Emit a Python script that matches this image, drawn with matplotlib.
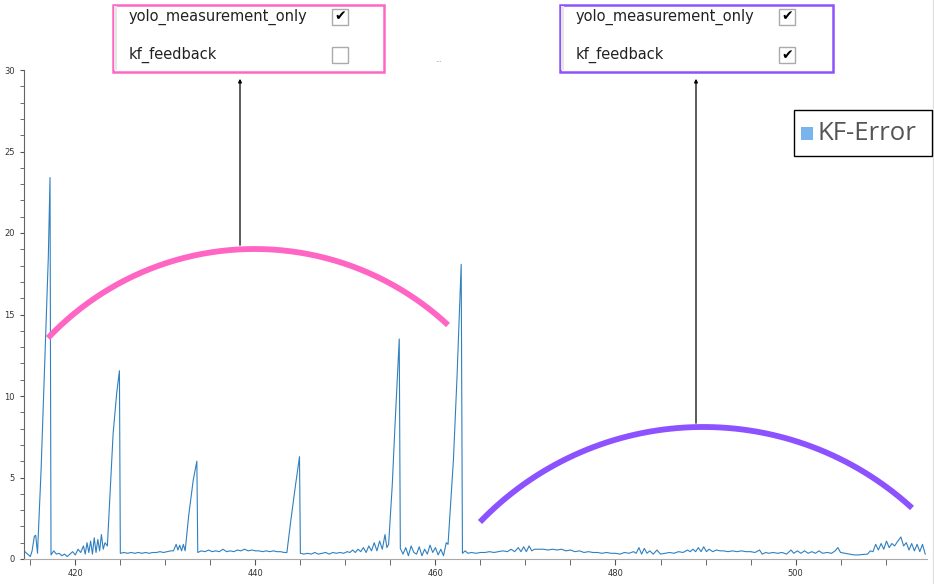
import numpy as np
import matplotlib
matplotlib.use("Agg")
import matplotlib.pyplot as plt
from matplotlib.patches import Rectangle
from matplotlib.ticker import MultipleLocator

# KF error trace (time vs error)
t = [414.4, 414.7, 415.0, 415.2, 415.45, 415.6, 415.8, 416.2, 416.6, 417.0, 417.19, 417.3,
     417.6, 417.9, 418.2, 418.5, 418.8, 419.1, 419.4, 419.7, 420.0, 420.3, 420.6, 420.9, 421.1,
     421.3, 421.5, 421.7, 421.9, 422.1, 422.3, 422.5, 422.7, 422.9, 423.1, 423.3, 423.56,
     423.86, 424.2, 424.6, 424.9, 425.0,
     425.4, 425.8, 426.2, 426.6, 427.0, 427.4, 427.8, 428.2, 428.6, 429.0, 429.4, 429.8, 430.2,
     430.6, 430.9, 431.2, 431.4, 431.6, 431.8, 432.0, 432.2,
     432.6, 433.1, 433.5, 433.6,
     434.0, 434.4, 434.8, 435.2, 435.6, 436.0, 436.4, 436.8, 437.2, 437.6, 438.0, 438.4, 438.8,
     439.2, 439.6, 440.0, 440.4, 440.8, 441.2, 441.6, 442.0, 442.4, 442.8, 443.2, 443.5,
     443.9, 444.4, 444.9, 445.0,
     445.4, 445.8, 446.2, 446.6, 447.0, 447.4, 447.8, 448.2, 448.6, 449.0, 449.4, 449.8, 450.2,
     450.5, 450.8, 451.1, 451.4, 451.7, 452.0, 452.3, 452.6, 452.9, 453.2, 453.5, 453.8, 454.1,
     454.4, 454.6, 454.8,
     455.2, 455.5, 455.8, 455.98, 456.1,
     456.4, 456.7, 457.0, 457.3, 457.6, 457.9, 458.2, 458.5, 458.8, 459.1, 459.4, 459.7, 460.0,
     460.3, 460.6, 460.9, 461.2, 461.4,
     461.7, 462.0, 462.4, 462.86, 463.0,
     463.3, 463.6, 464.0, 464.5, 465.0, 465.5, 466.0, 466.5, 467.0, 467.5, 468.0, 468.4, 468.8,
     469.2, 469.5, 469.8, 470.1, 470.4, 470.7, 471.0, 471.5, 472.0, 472.5, 473.0, 473.5, 474.0,
     474.5, 475.0, 475.5, 476.0, 476.5, 477.0, 477.5, 478.0, 478.5, 479.0, 479.5, 480.0, 480.5,
     481.0, 481.5, 482.0, 482.3, 482.6, 482.9, 483.2, 483.5, 483.8, 484.2, 484.6, 485.0, 485.5,
     486.0, 486.5, 487.0, 487.5, 488.0, 488.3, 488.6, 488.9, 489.2, 489.5, 489.8, 490.1, 490.4,
     490.8, 491.2, 491.6, 492.0, 492.5, 493.0, 493.5, 494.0, 494.5, 495.0, 495.5, 496.0, 496.3,
     496.7, 497.0, 497.5, 498.0, 498.5, 499.0, 499.5, 499.8, 500.2, 500.6, 501.0, 501.4, 501.8,
     502.2, 502.6, 503.0, 503.5, 504.0, 504.4, 504.7, 505.0, 505.5, 506.0, 506.5, 507.0, 507.5,
     508.0, 508.3, 508.6, 508.9, 509.2, 509.5, 509.8, 510.1, 510.4, 510.7, 511.0, 511.3, 511.7,
     512.0, 512.3, 512.6, 512.9, 513.2, 513.5, 513.8, 514.1, 514.4]
err = [0.45, 0.3, 0.15, 0.5, 1.4, 1.45, 0.35, 5.5, 12.0, 18.5, 23.4, 0.25,
       0.5, 0.3, 0.35, 0.2, 0.3, 0.15, 0.3, 0.45, 0.25, 0.6, 0.4, 0.8, 0.3,
       1.0, 0.4, 1.1, 0.3, 1.3, 0.4, 1.2, 0.5, 1.5, 0.6, 1.0, 0.8,
       4.0, 7.7, 10.2, 11.55, 0.35,
       0.4, 0.35, 0.4, 0.35, 0.4, 0.35, 0.4, 0.35, 0.4, 0.4, 0.45, 0.4, 0.45,
       0.5, 0.5, 0.9, 0.55, 0.85, 0.5, 0.9, 0.5,
       2.7, 4.85, 6.0, 0.4,
       0.5, 0.45, 0.55, 0.45, 0.5, 0.45, 0.6, 0.45, 0.5, 0.45, 0.55, 0.5, 0.6,
       0.5, 0.55, 0.5, 0.5, 0.45, 0.5, 0.45, 0.5, 0.45, 0.45, 0.4, 0.4,
       2.2, 4.3, 6.28, 0.35,
       0.3, 0.35, 0.3, 0.4, 0.3, 0.35, 0.4, 0.3, 0.4, 0.35, 0.4, 0.35, 0.45,
       0.4, 0.55, 0.4, 0.6, 0.45, 0.7, 0.4, 0.8, 0.5, 1.0, 0.5, 1.1, 0.6,
       1.5, 0.7, 0.9,
       4.5, 8.1, 11.5, 13.5, 0.65,
       0.3, 0.7, 0.2, 0.8, 0.4, 0.3, 0.75, 0.2, 0.6, 0.3, 0.85, 0.4, 0.7,
       0.25, 0.6, 0.2, 1.0, 0.9,
       3.5, 6.1, 11.2, 18.08, 0.35,
       0.5, 0.35, 0.4, 0.35, 0.4, 0.4, 0.45, 0.4, 0.45, 0.5, 0.45, 0.6, 0.45,
       0.7, 0.45, 0.75, 0.45, 0.8, 0.5, 0.6, 0.6, 0.6, 0.55, 0.6, 0.55, 0.6,
       0.5, 0.55, 0.45, 0.5, 0.4, 0.45, 0.4, 0.4, 0.35, 0.4, 0.35, 0.35, 0.3,
       0.4, 0.35, 0.45, 0.35, 0.7, 0.3, 0.65, 0.35, 0.5, 0.3, 0.55, 0.3, 0.35,
       0.4, 0.35, 0.45, 0.4, 0.55, 0.45, 0.6, 0.45, 0.7, 0.45, 0.75, 0.45, 0.6,
       0.45, 0.55, 0.5, 0.5, 0.45, 0.5, 0.45, 0.5, 0.45, 0.45, 0.4, 0.55, 0.3,
       0.4, 0.35, 0.4, 0.35, 0.4, 0.3, 0.55, 0.35, 0.5, 0.35, 0.5, 0.35, 0.45,
       0.35, 0.5, 0.35, 0.4, 0.35, 0.5, 0.7, 0.4, 0.35, 0.3, 0.25, 0.25, 0.28,
       0.3, 0.5, 0.45, 0.9, 0.55, 0.95, 0.6, 1.1, 0.7, 0.95, 0.8, 1.05, 1.35,
       0.8, 1.0, 0.55, 0.95, 0.5, 0.9, 0.45, 0.9, 0.3]

W, H = 934, 584
fig = plt.figure(figsize=(W / 100, H / 100), dpi=100)

ax = fig.add_axes([24 / W, (H - 559) / H, (927 - 24) / W, (559 - 70) / H])
ax.plot(t, err, color='#2f80c0', lw=0.8)
ax.set_xlim(414.3, 514.6)
ax.set_ylim(0, 30)
ax.xaxis.set_major_locator(MultipleLocator(20))
ax.xaxis.set_minor_locator(MultipleLocator(5))
ax.yaxis.set_major_locator(MultipleLocator(5))
ax.yaxis.set_minor_locator(MultipleLocator(1))
ax.tick_params(which='both', labelsize=6, colors='#555555', labelcolor='#333333')
ax.tick_params(axis='x', which='both', length=4)
ax.tick_params(axis='y', which='both', length=3)
for s in ['top', 'right']:
    ax.spines[s].set_visible(False)
ax.spines['left'].set_color('#666666')
ax.spines['bottom'].set_color('#aaaaaa')

# overlay in pixel coordinates (y measured from top)
ov = fig.add_axes([0, 0, 1, 1])
ov.set_xlim(0, W)
ov.set_ylim(H, 0)
ov.axis('off')
ov.patch.set_alpha(0)

pink = '#ff66c4'
purple = '#8c52ff'


def arc3(p1, p2, p3, color):
    # circle through three points, drawn as a thick stroke
    (x1, y1), (x2, y2), (x3, y3) = p1, p2, p3
    d = 2 * (x1 * (y2 - y3) + x2 * (y3 - y1) + x3 * (y1 - y2))
    ux = ((x1**2 + y1**2) * (y2 - y3) + (x2**2 + y2**2) * (y3 - y1) + (x3**2 + y3**2) * (y1 - y2)) / d
    uy = ((x1**2 + y1**2) * (x3 - x2) + (x2**2 + y2**2) * (x1 - x3) + (x3**2 + y3**2) * (x2 - x1)) / d
    r = np.hypot(x1 - ux, y1 - uy)
    a1 = np.arctan2(y1 - uy, x1 - ux)
    a3 = np.arctan2(y3 - uy, x3 - ux)
    a2 = np.arctan2(y2 - uy, x2 - ux)
    if not (min(a1, a3) <= a2 <= max(a1, a3)):
        if a1 < a3:
            a1 += 2 * np.pi
        else:
            a3 += 2 * np.pi
    a = np.linspace(a1, a3, 200)
    ov.plot(ux + r * np.cos(a), uy + r * np.sin(a), color=color, lw=4.2, solid_capstyle='butt')


arc3((48, 338), (255, 249), (448, 325), pink)
arc3((480, 522), (700, 427), (912, 508), purple)

# arrows up to the option panels
ov.annotate('', xy=(240, 76), xytext=(240, 248),
            arrowprops=dict(arrowstyle='-|>', color='black', lw=0.9, mutation_scale=5))
ov.annotate('', xy=(696, 76), xytext=(696, 426),
            arrowprops=dict(arrowstyle='-|>', color='black', lw=0.9, mutation_scale=5))


def panel(x0, x1, color, checks):
    ov.add_patch(Rectangle((x0, 4.5), x1 - x0, 67, facecolor='white', edgecolor=color, lw=1.8, zorder=3))
    ov.add_patch(Rectangle((x0 + 1.5, 6), 3, 64, facecolor='#e6e6e6', edgecolor='none', zorder=4))
    rows = [('yolo_measurement_only', 16.5), ('kf_feedback', 55)]
    for (label, y), on in zip(rows, checks):
        ov.text(x0 + 16, y, label, fontsize=10.5, color='#222222', va='center', ha='left',
                family='DejaVu Sans', zorder=5)
        ov.add_patch(Rectangle((x0 + 219.5, y - 8), 16, 16, facecolor='white',
                               edgecolor='#aaaaaa', lw=1, zorder=5))
        if on:
            ov.text(x0 + 227.5, y, '\u2714', fontsize=10, color='black', ha='center', va='center',
                    family='DejaVu Sans', zorder=6)


panel(112.5, 384, pink, [True, False])
panel(559.5, 832.5, purple, [True, True])
ov.text(439, 60, '...', fontsize=5, color='#999999', ha='center', va='center')

# legend box
ov.add_patch(Rectangle((793.5, 110), 138, 46, facecolor='white', edgecolor='black', lw=1, zorder=3))
ov.add_patch(Rectangle((801, 126.5), 12, 13.5, facecolor='#7ab4ee', edgecolor='none', zorder=4))
ov.text(818, 133.5, 'KF-Error', fontsize=18.5, color='#555555', ha='left', va='center',
        family='Open Sans', zorder=4)
ov.plot([932.5, 932.5], [0, H], color='#e0e0e0', lw=1)

fig.savefig('out.png', dpi=100)
